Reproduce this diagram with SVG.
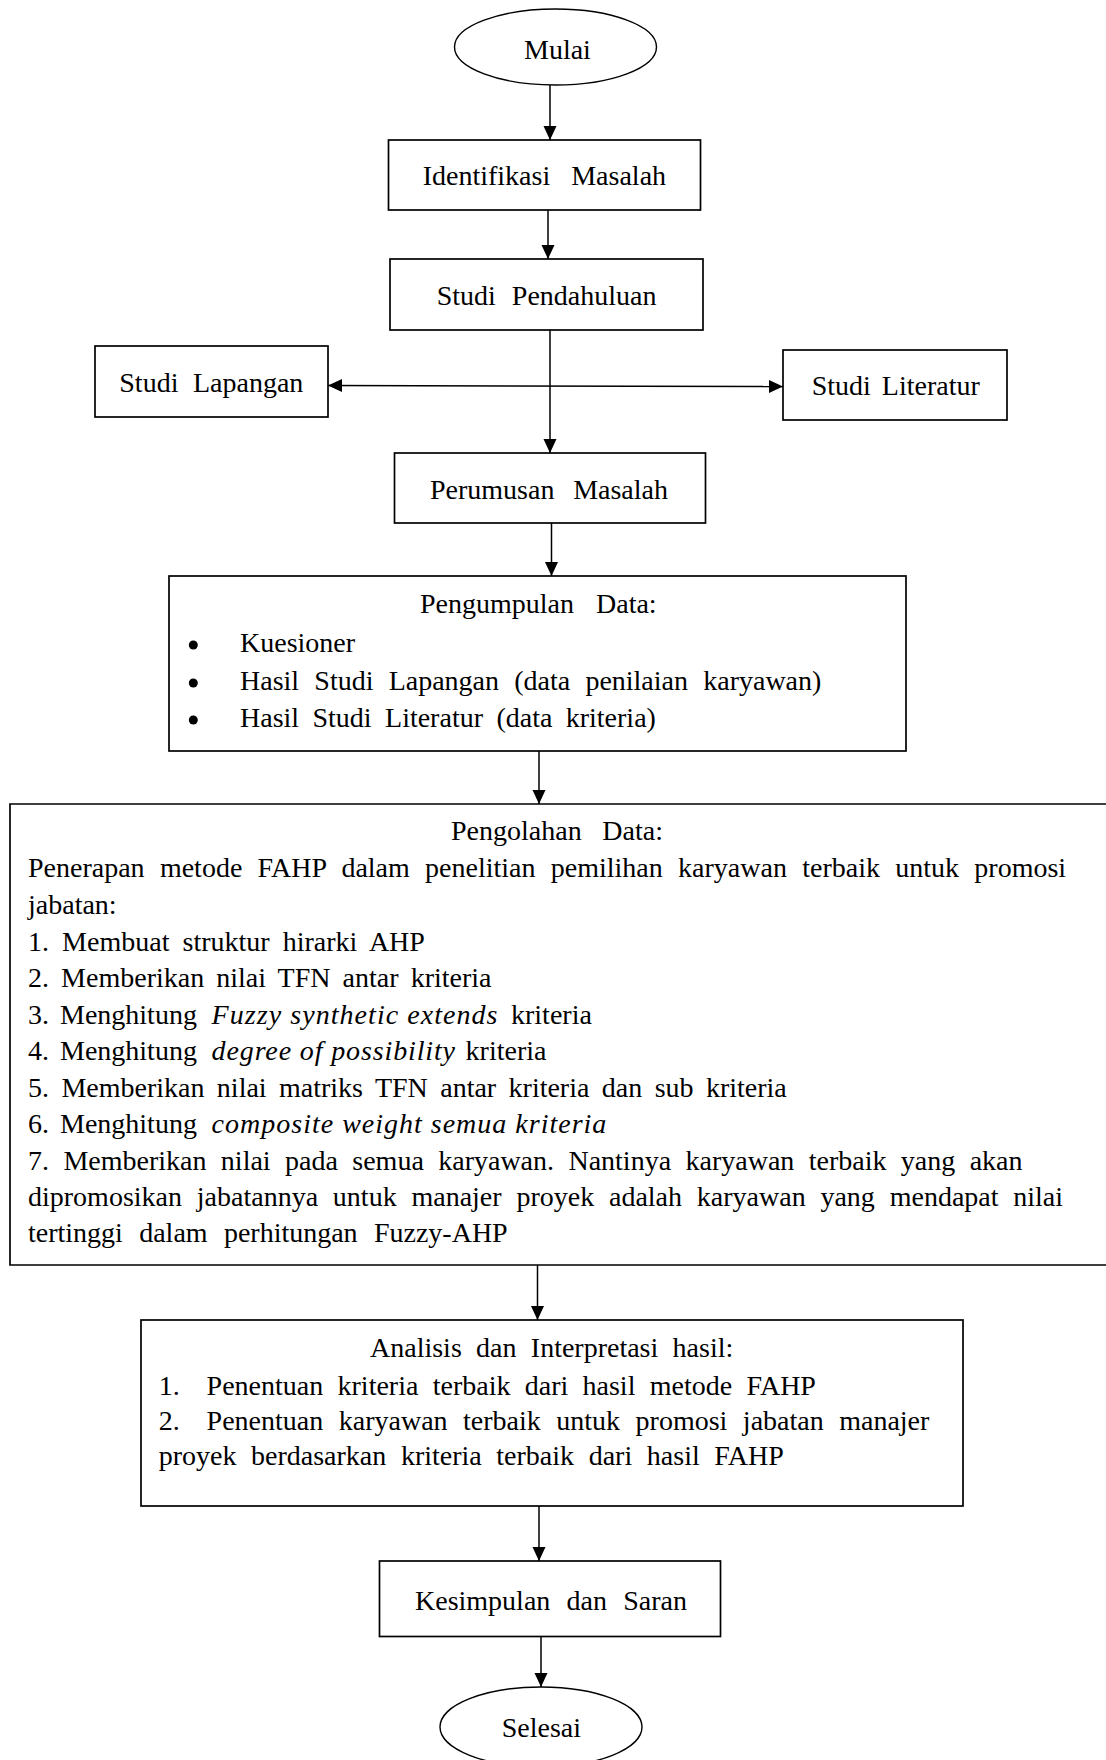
<svg xmlns="http://www.w3.org/2000/svg" width="1106" height="1760" viewBox="0 0 1106 1760">
<style>
text{font-family:"Liberation Serif","Times New Roman",serif;font-size:28px;fill:#000}
.box{fill:#fff;stroke:#000;stroke-width:1.7}
.term{fill:#fff;stroke:#000;stroke-width:1.4}
.conn{fill:none;stroke:#000;stroke-width:1.5}
.it{font-style:italic}
</style>
<defs>
<marker id="arr" markerUnits="userSpaceOnUse" markerWidth="14" markerHeight="14" viewBox="0 0 14 14" refX="14" refY="7" orient="auto-start-reverse">
<path d="M0,0.5 L14,7 L0,13.5 Z" fill="#000"/>
</marker>
</defs>
<rect width="1106" height="1760" fill="#fff"/>

<g id="connectors">
<path class="conn" d="M550,85 V140" marker-end="url(#arr)"/>
<path class="conn" d="M548,210 V259" marker-end="url(#arr)"/>
<path class="conn" d="M550,330 V453" marker-end="url(#arr)"/>
<path class="conn" d="M328,385.5 L783,386.5" marker-start="url(#arr)" marker-end="url(#arr)"/>
<path class="conn" d="M551.5,523 V576" marker-end="url(#arr)"/>
<path class="conn" d="M539,751 V804" marker-end="url(#arr)"/>
<path class="conn" d="M537.5,1265 V1320" marker-end="url(#arr)"/>
<path class="conn" d="M539,1506 V1561" marker-end="url(#arr)"/>
<path class="conn" d="M541,1636 V1687" marker-end="url(#arr)"/>
</g>

<g id="mulai">
<ellipse class="term" cx="555.5" cy="47" rx="101" ry="38"/>
<text x="524" y="59">Mulai</text>
</g>

<g id="identifikasi">
<rect class="box" x="388.5" y="140" width="312" height="70"/>
<text x="422.7" y="185" word-spacing="14">Identifikasi Masalah</text>
</g>

<g id="pendahuluan">
<rect class="box" x="390" y="259" width="313" height="71"/>
<text x="436.7" y="305" word-spacing="9">Studi Pendahuluan</text>
</g>

<g id="lapangan">
<rect class="box" x="95" y="346" width="233" height="71"/>
<text x="119.3" y="392" word-spacing="7.5">Studi Lapangan</text>
</g>

<g id="literatur">
<rect class="box" x="783" y="350" width="224" height="70"/>
<text x="811.7" y="395" word-spacing="4">Studi Literatur</text>
</g>

<g id="perumusan">
<rect class="box" x="394.5" y="453" width="311" height="70"/>
<text x="430" y="498.5" word-spacing="11.7">Perumusan Masalah</text>
</g>

<g id="pengumpulan">
<rect class="box" x="169" y="576" width="737" height="175"/>
<text x="420" y="613" word-spacing="15">Pengumpulan Data:</text>
<circle cx="193.3" cy="645" r="4.5"/>
<circle cx="193.3" cy="683" r="4.5"/>
<circle cx="193.3" cy="720" r="4.5"/>
<text x="240" y="651.7">Kuesioner</text>
<text x="240" y="690" word-spacing="8.2">Hasil Studi Lapangan (data penilaian karyawan)</text>
<text x="240" y="726.7" word-spacing="6.4">Hasil Studi Literatur (data kriteria)</text>
</g>

<g id="pengolahan">
<path class="box" d="M1106,804 H10 V1265 H1106"/>
<text x="451" y="840" word-spacing="13.7">Pengolahan Data:</text>
<text x="28" y="877" word-spacing="8.3">Penerapan metode FAHP dalam penelitian pemilihan karyawan terbaik untuk promosi</text>
<text x="28" y="913.5">jabatan:</text>
<text x="28" y="950.5" word-spacing="6.1">1. Membuat struktur hirarki AHP</text>
<text x="28" y="987" word-spacing="5.1">2. Memberikan nilai TFN antar kriteria</text>
<text y="1023.5"><tspan x="28" word-spacing="4">3. Menghitung</tspan><tspan x="211.6" class="it" letter-spacing="1.05">Fuzzy synthetic extends</tspan><tspan x="511">kriteria</tspan></text>
<text y="1060"><tspan x="28" word-spacing="4">4. Menghitung</tspan><tspan x="211.6" class="it" letter-spacing="0.87">degree of possibility</tspan><tspan x="465.6">kriteria</tspan></text>
<text x="28" y="1096.7" word-spacing="5.4">5. Memberikan nilai matriks TFN antar kriteria dan sub kriteria</text>
<text y="1133.3"><tspan x="28" word-spacing="4">6. Menghitung</tspan><tspan x="211.6" class="it" letter-spacing="1">composite weight semua kriteria</tspan></text>
<text x="28" y="1170" word-spacing="7.4">7. Memberikan nilai pada semua karyawan. Nantinya karyawan terbaik yang akan</text>
<text x="28" y="1205.5" word-spacing="7.8">dipromosikan jabatannya untuk manajer proyek adalah karyawan yang mendapat nilai</text>
<text x="28" y="1241.5" word-spacing="9.3">tertinggi dalam perhitungan Fuzzy-AHP</text>
</g>

<g id="analisis">
<rect class="box" x="141" y="1320" width="822" height="186"/>
<text x="370" y="1357" word-spacing="7.3">Analisis dan Interpretasi hasil:</text>
<text x="158.7" y="1395">1.</text>
<text x="206.6" y="1395" word-spacing="7.3">Penentuan kriteria terbaik dari hasil metode FAHP</text>
<text x="158.7" y="1430">2.</text>
<text x="206.6" y="1430" word-spacing="8.5">Penentuan karyawan terbaik untuk promosi jabatan manajer</text>
<text x="158.7" y="1465" word-spacing="7.6">proyek berdasarkan kriteria terbaik dari hasil FAHP</text>
</g>

<g id="kesimpulan">
<rect class="box" x="379.5" y="1561" width="341" height="75.5"/>
<text x="415" y="1610" word-spacing="9.2">Kesimpulan dan Saran</text>
</g>

<g id="selesai">
<ellipse class="term" cx="541" cy="1727" rx="101" ry="40"/>
<text x="501.7" y="1737">Selesai</text>
</g>
</svg>
